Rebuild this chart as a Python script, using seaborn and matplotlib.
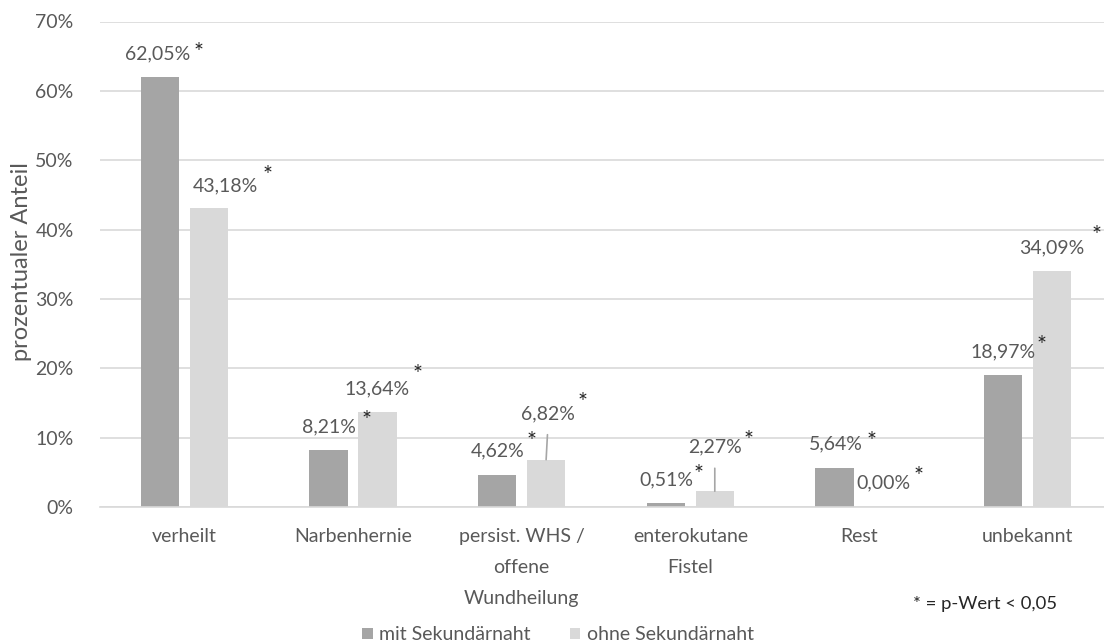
import numpy as np
import pandas as pd
import matplotlib
matplotlib.use("Agg")
import matplotlib.pyplot as plt
import seaborn as sns
from matplotlib.patches import Patch

categories = ["verheilt", "Narbenhernie", "persist. WHS /\noffene\nWundheilung",
              "enterokutane\nFistel", "Rest", "unbekannt"]
mit_sekundaernaht = [62.05, 8.21, 4.62, 0.51, 5.64, 18.97]
ohne_sekundaernaht = [43.18, 13.64, 6.82, 2.27, 0.00, 34.09]
series_names = ["mit Sekundärnaht", "ohne Sekundärnaht"]
y_ticks = [0, 10, 20, 30, 40, 50, 60, 70]

df = pd.DataFrame({
    "Kategorie": categories * 2,
    "Gruppe": [series_names[0]] * 6 + [series_names[1]] * 6,
    "Anteil": mit_sekundaernaht + ohne_sekundaernaht,
})

# label placement (offset pixels from bar top centre): label, asterisk
label_off = [
    [(-2, 23), (0, 23), (0, 24), (0, 24), (1, 24), (0, 24)],
    [(17, 22), (0, 24), (2, 46), (0, 44), (0, 24), (0, 23)],
]
star_off = [
    [(39, 30), (38, 36), (34, 39), (33, 35), (37, 32), (38, 36)],
    [(59, 38), (40, 44), (36, 63), (34, 57), (35, 36), (44, 41)],
]
leader = [[False] * 6, [False, False, True, True, False, False]]

plt.rcParams["font.family"] = ["Lato", "DejaVu Sans"]
text_col = "#595959"
grid_col = "#d9d9d9"
fs = 14

fig = plt.figure(figsize=(11.04, 6.42), dpi=100)
W, H = 1104, 642
ax = fig.add_axes([100 / W, (642 - 507) / H, (1104 - 100) / W, (507 - 21.5) / H])

sns.barplot(data=df, x="Kategorie", y="Anteil", hue="Gruppe", ax=ax,
            palette=["#a5a5a5", "#d9d9d9"], width=0.58, gap=0.22,
            saturation=1, legend=False)

ax.set_ylim(0, 70)
ax.set_xlim(-0.5, 5.5 - 8 / 168.7)
ax.set_yticks(y_ticks)
ax.set_yticklabels([f"{t}%" for t in y_ticks], color=text_col, fontsize=fs)
ax.tick_params(axis="x", colors=text_col, labelsize=fs, length=0, pad=15)
ax.tick_params(axis="y", length=0, pad=19)
for lbl in ax.get_xticklabels():
    lbl.set_linespacing(2.0)
ax.yaxis.grid(True, color=grid_col, linewidth=1.2)
ax.set_axisbelow(True)
for s in ["top", "right", "left"]:
    ax.spines[s].set_visible(False)
ax.spines["bottom"].set_color(grid_col)
ax.spines["bottom"].set_linewidth(1.2)
ax.set_xlabel("")
ax.set_ylabel("prozentualer Anteil", color=text_col, fontsize=17, labelpad=3)
ax.yaxis.set_label_coords(-68 / 1004, 0.505)

for si, cont in enumerate(ax.containers):
    for ci, bar in enumerate(cont):
        v = bar.get_height()
        x = bar.get_x() + bar.get_width() / 2
        txt = f"{v:.2f}".replace(".", ",") + "%"
        dx, dy = label_off[si][ci]
        arrow = None
        if leader[si][ci]:
            arrow = dict(arrowstyle="-", color="#a6a6a6", lw=1.2,
                         shrinkA=7, shrinkB=0, relpos=(0.5, 0.0))
        ax.annotate(txt, (x, v), xytext=(dx, dy), textcoords="offset pixels",
                    ha="center", va="center", color=text_col, fontsize=fs,
                    arrowprops=arrow, annotation_clip=False)
        sx, sy = star_off[si][ci]
        ax.annotate("*", (x, v), xytext=(sx, sy - 6), textcoords="offset pixels",
                    ha="center", va="center", color="#262626", fontsize=17,
                    annotation_clip=False)

fig.text(913 / W, 1 - 604 / H, "* = p-Wert < 0,05", color="#262626",
         fontsize=13.3, ha="left", va="center")

handles = [Patch(facecolor="#a5a5a5", edgecolor="none"),
           Patch(facecolor="#d9d9d9", edgecolor="none")]
fig.legend(handles, series_names, loc="center", bbox_to_anchor=(558 / W, 1 - 635 / H),
           ncol=2, frameon=False, fontsize=fs, labelcolor=text_col,
           handlelength=0.55, handleheight=0.55, handletextpad=0.35,
           columnspacing=2.0, borderpad=0)

fig.savefig("out.png", dpi=100)
